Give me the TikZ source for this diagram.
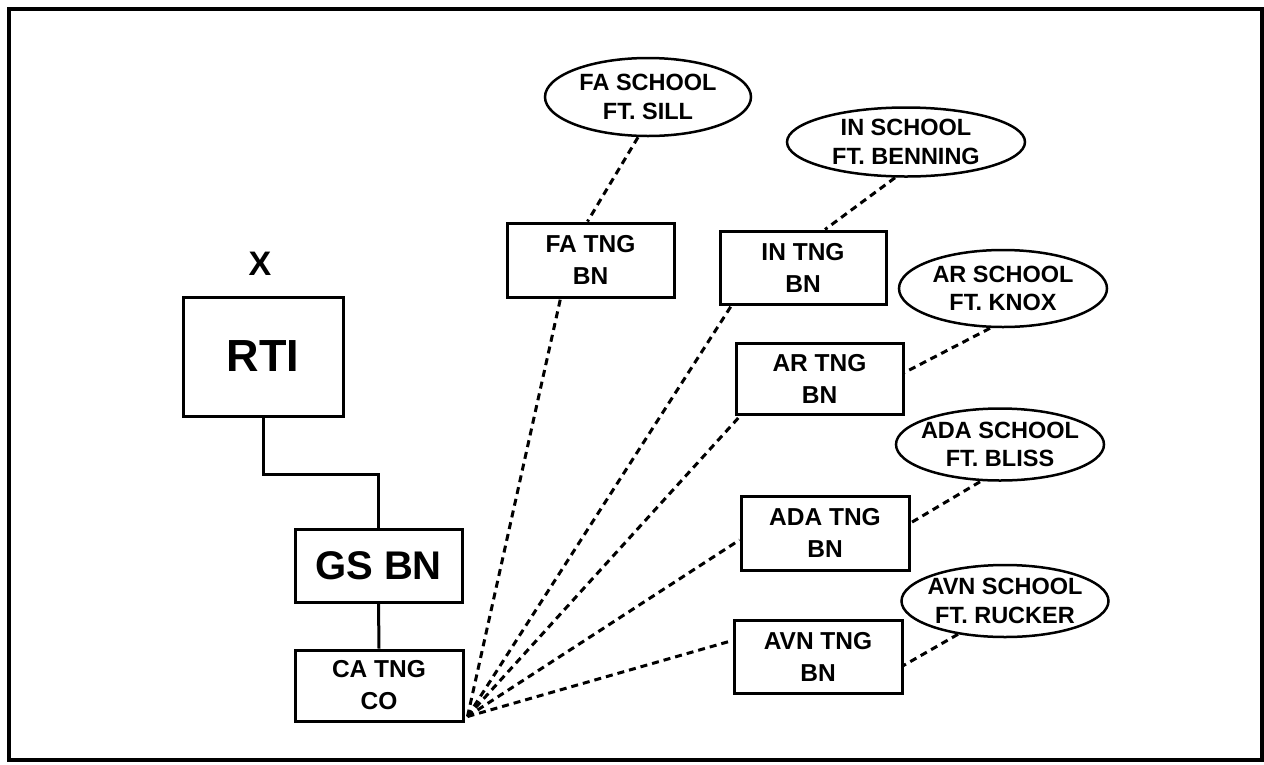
\documentclass[tikz,border=0pt]{standalone}
\usepackage{fontspec}
\setmainfont{Liberation Sans}
\usepackage{tikz}
\usetikzlibrary{shapes.geometric}

\begin{document}
\begin{tikzpicture}[x=1pt, y=-1pt,
  unitbox/.style={draw, line width=3pt, inner sep=0pt, align=center,
    font=\bfseries\fontsize{24.5}{32}\selectfont},
  school/.style={draw, ellipse, line width=2.5pt, inner sep=-30pt, align=center,
    font=\bfseries\fontsize{23.5}{28.5}\selectfont},
  solidlink/.style={line width=3pt},
  dotlink/.style={line width=3pt, dash pattern=on 7pt off 5pt}]
  \useasboundingbox (0,0) rectangle (1264,764);
  % --- frame -------------------------------------------------------
  \draw[line width=4pt] (9,8.5) rectangle (1262,760);
  % --- chain of command --------------------------------------------
  \node[font=\bfseries\fontsize{34}{34}\selectfont] (xmark) at (260,264) {X};
  \node[unitbox, minimum width=160pt, minimum height=119pt,
        font=\bfseries\fontsize{45}{45}\selectfont] (rti) at (263,356.5) {RTI};
  \node[unitbox, minimum width=167pt, minimum height=73pt,
        font=\bfseries\fontsize{40}{40}\selectfont] (gsbn) at (378.5,565.5) {GS BN};
  \node[unitbox, minimum width=168pt, minimum height=71pt] (catng) at (379,685.5) {CA TNG\\CO};
  \draw[solidlink] (rti.south) -- ++(0,57) -| (gsbn.north);
  \draw[solidlink] (gsbn.south) -- (catng.north);
  % --- training battalions -----------------------------------------
  \node[unitbox, minimum width=167pt, minimum height=74pt] (fatng)  at (590.5,260) {FA TNG\\BN};
  \node[unitbox, minimum width=166pt, minimum height=73pt] (intng)  at (803,267.5) {IN TNG\\BN};
  \node[unitbox, minimum width=167pt, minimum height=71pt] (artng)  at (819.5,378.5) {AR TNG\\BN};
  \node[unitbox, minimum width=168pt, minimum height=74pt] (adatng) at (825,533) {ADA TNG\\BN};
  \node[unitbox, minimum width=168pt, minimum height=73pt] (avntng) at (818,656.5) {AVN TNG\\BN};
  % --- schools -----------------------------------------------------
  \node[school, minimum width=206pt, minimum height=78pt] (fasch)  at (648,97)    {FA SCHOOL\\FT. SILL};
  \node[school, minimum width=238pt, minimum height=69pt] (insch)  at (906,142)   {IN SCHOOL\\FT. BENNING};
  \node[school, minimum width=208pt, minimum height=77pt] (arsch)  at (1003,288.5) {AR SCHOOL\\FT. KNOX};
  \node[school, minimum width=208pt, minimum height=72pt] (adasch) at (1000,444.5) {ADA SCHOOL\\FT. BLISS};
  \node[school, minimum width=207pt, minimum height=72pt] (avnsch) at (1005,601)   {AVN SCHOOL\\FT. RUCKER};
  % --- dotted links from the company -------------------------------
  \coordinate (hub) at ([xshift=3pt,yshift=6pt]catng.south east);
  \draw[dotlink] (hub) -- ([xshift=-30pt]fatng.south);
  \draw[dotlink] (hub) -- ([xshift=13pt]intng.south west);
  \draw[dotlink] (hub) -- ([xshift=6pt]artng.south west);
  \draw[dotlink] (hub) -- ([yshift=-7pt]adatng.west);
  \draw[dotlink] (hub) -- ([yshift=16pt]avntng.west);
  % --- dotted links to the schools ---------------------------------
  \draw[dotlink] ([xshift=-10pt]fasch.south) -- ([xshift=-3pt]fatng.north);
  \draw[dotlink] ([xshift=-11pt]insch.south) -- ([xshift=22pt]intng.north);
  \draw[dotlink] ([xshift=-13pt]arsch.south) -- ([yshift=6pt]artng.east);
  \draw[dotlink] ([xshift=-20pt]adasch.south) -- ([yshift=10pt]adatng.east);
  \draw[dotlink] ([xshift=-47pt,yshift=4pt]avnsch.south) -- ([yshift=-9pt]avntng.east);
\end{tikzpicture}
\end{document}
